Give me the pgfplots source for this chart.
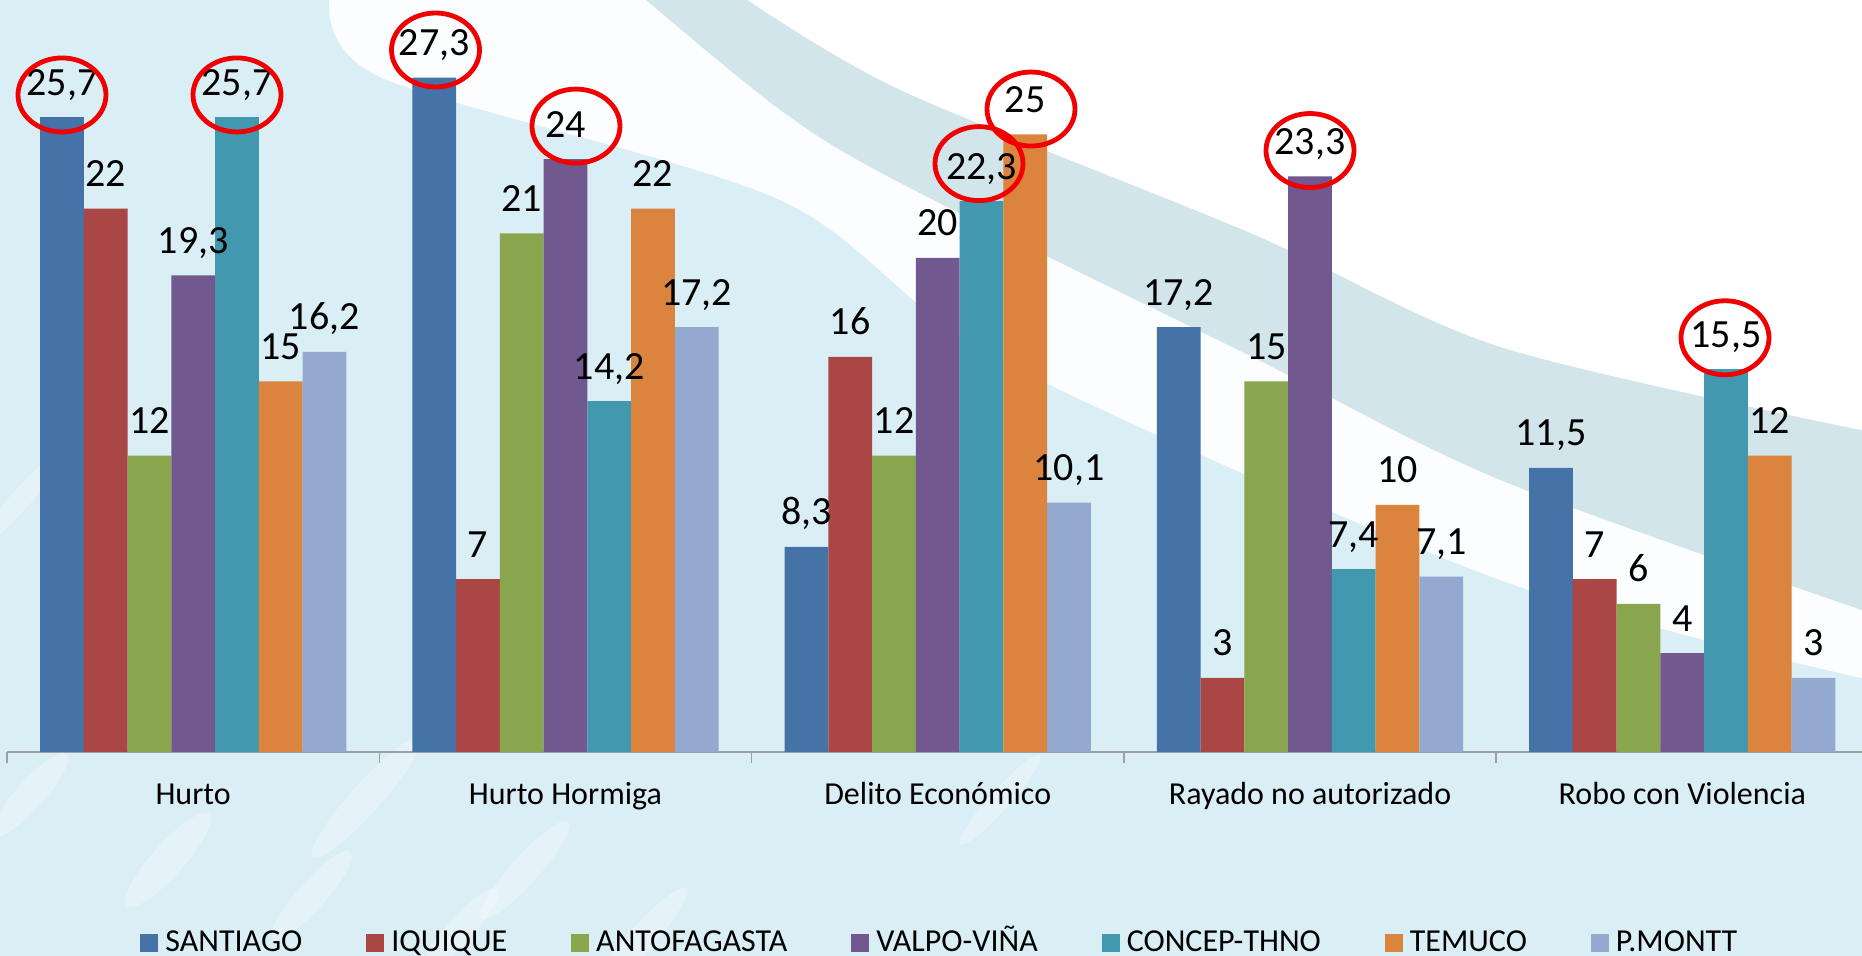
\documentclass[border=0pt]{standalone}
\usepackage{pgfplots}
\pgfplotsset{compat=1.18}
\usepackage{fontspec}
\setmainfont{Carlito}
\usetikzlibrary{shapes.geometric}
\definecolor{cS}{HTML}{4572A7}
\definecolor{cI}{HTML}{AA4643}
\definecolor{cA}{HTML}{89A54E}
\definecolor{cV}{HTML}{71588F}
\definecolor{cC}{HTML}{4198AF}
\definecolor{cT}{HTML}{DB843D}
\definecolor{cP}{HTML}{93A9CF}
\definecolor{bgblue}{RGB}{218,238,245}
\definecolor{stripe}{RGB}{210,229,234}
\definecolor{ringred}{RGB}{240,0,0}
\newcommand{\LE}[1]{#1\vphantom{Ñ}}
\pgfplotsset{
  valbar/.style={draw=none,
    legend image code/.code={\fill[##1] (0pt,-6pt) rectangle (9pt,3pt);}},
  ring/.style={draw=none, mark=none, nodes near coords={},
    every node near coord/.append style={draw=ringred, line width=2.4pt, ellipse, minimum width=44pt, minimum height=37pt, inner sep=0pt, anchor=center}},
  common/.style={at={(3.5pt,102pt)}, anchor=south west,
    scale only axis, width=927.5pt, height=376pt,
    xmin=-0.5, xmax=4.4826, ymin=0, ymax=30.445, clip=false}
}
\begin{document}
\begin{tikzpicture}
\fill[bgblue] (0,0) rectangle (931pt,478pt);
\begin{scope}[x=0.5pt,y=-0.5pt,yshift=478pt]
  \fill[white] (1870,-5) -- (740,-5) -- plot[smooth] coordinates {(740,-5)(900,90)(1250,233)(1500,347)(1870,432)} -- cycle;
  \fill[stripe] plot[smooth] coordinates {(740,-5)(900,90)(1250,233)(1500,347)(1870,432)} -- plot[smooth] coordinates {(1870,613)(1500,480)(1250,356)(900,183)(780,110)(640,-5)} -- cycle;
  \fill[white, opacity=0.9] plot[smooth] coordinates {(640,-5)(780,110)(900,183)(1250,356)(1500,480)(1870,613)} -- plot[smooth] coordinates {(1870,680)(1500,580)(1000,360)(780,200)(380,77)(330,-5)} -- cycle;
  \foreach \cx/\cy/\rx/\ry in {30/795/55/14, 168/860/62/16, 312/895/58/14, 366/798/80/15, 525/870/65/14, 460/930/55/13, 640/940/70/13, 20/500/70/10, 1000/800/60/10}
    {\fill[white, opacity=0.3, rotate around={48:(\cx,\cy)}] (\cx,\cy) ellipse [x radius=\rx, y radius=\ry];}
\end{scope}
\begin{axis}[
  common,
  ybar=0pt, bar width=0.1175,
  axis x line*=bottom, axis y line=none,
  x axis line style={-, draw=gray!75, line width=1pt},
  xtick={0,1,2,3,4},
  xticklabels={Hurto, Hurto Hormiga, Delito Económico, Rayado no autorizado, Robo con Violencia},
  major x tick style={draw=none},
  minor xtick={-0.5,0.5,1.5,2.5,3.5,4.5},
  minor tick length=5.5pt, tick align=outside,
  minor x tick style={draw=gray!75, line width=0.8pt},
  xticklabel style={font=\fontsize{16}{19}\selectfont, anchor=base, yshift=-22pt},
  ytick=\empty,
  /pgf/number format/assume math mode=true,
  /pgf/number format/use comma,
  nodes near coords,
  every node near coord/.append style={font=\fontsize{20}{24}\selectfont, text=black, anchor=base, yshift=11pt},
  legend columns=7,
  legend style={at={(0.0717,-0.2700)}, anchor=south west, draw=none, fill=none, inner sep=0pt,
    font=\fontsize{16}{19}\selectfont, nodes={inner sep=0pt},
    /tikz/every odd column/.append style={column sep=3.5pt},
    /tikz/every even column/.append style={column sep=32pt}},
  legend cell align=left,
]
\addplot[valbar, fill=cS] coordinates {(0,25.7)(1,27.3)(2,8.3)(3,17.2)(4,11.5)};
\addplot[valbar, fill=cI] coordinates {(0,22)(1,7)(2,16)(3,3)(4,7)};
\addplot[valbar, fill=cA] coordinates {(0,12)(1,21)(2,12)(3,15)(4,6)};
\addplot[valbar, fill=cV] coordinates {(0,19.3)(1,24)(2,20)(3,23.3)(4,4)};
\addplot[valbar, fill=cC] coordinates {(0,25.7)(1,14.2)(2,22.3)(3,7.4)(4,15.5)};
\addplot[valbar, fill=cT] coordinates {(0,15)(1,22)(2,25)(3,10)(4,12)};
\addplot[valbar, fill=cP] coordinates {(0,16.2)(1,17.2)(2,10.1)(3,7.1)(4,3)};
\legend{\LE{SANTIAGO}, \LE{IQUIQUE}, \LE{ANTOFAGASTA}, \LE{VALPO-VIÑA}, \LE{CONCEP-THNO}, \LE{TEMUCO}, \LE{P.MONTT}}
\end{axis}
\begin{axis}[common, hide axis]
\addplot[ring] coordinates {(-0.3523,26.60)(0.1178,26.60)(0.6510,28.42)(1.0283,25.34)(2.1108,23.82)(2.2505,26.03)(2.9999,24.35)(4.1146,16.77)};
\end{axis}
\pgfresetboundingbox
\useasboundingbox (0,0) rectangle (931pt,478pt);
\end{tikzpicture}
\end{document}
